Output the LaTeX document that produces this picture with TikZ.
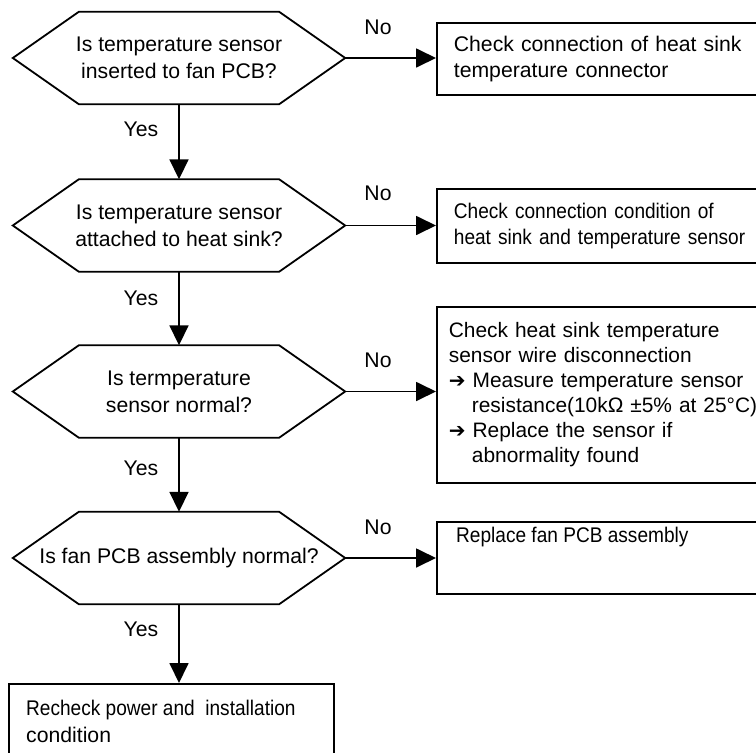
\documentclass[tikz,border=0pt]{standalone}
\usepackage{fontspec}
\setmainfont{Liberation Sans}
\newfontfamily\narrowfont[FakeStretch=0.9]{Liberation Sans}
\newfontfamily\symfont{DejaVu Sans}
\usetikzlibrary{arrows.meta}
\newcommand{\arrowmark}{{\symfont\fontsize{20}{25}\selectfont ➔}}
\begin{document}
\begin{tikzpicture}[x=1pt,y=-1pt,
  font=\fontsize{21.2}{25.5}\selectfont,
  hexnode/.style={minimum width=332, minimum height=92, inner sep=0pt, align=center,
                  font=\fontsize{21.2}{27}\selectfont},
  hexline/.style={line width=1.8pt, line join=miter},
  box/.style={draw, line width=1.8pt, rectangle, inner sep=0pt, anchor=north west},
  lbl/.style={inner sep=0pt},
  arr/.style={line width=1.8pt, -{Triangle[length=20pt,width=19pt]}}]
\useasboundingbox (0,0) rectangle (756,753);
\clip (0,0) rectangle (756,753);

% decisions
\node[hexnode] (h1) at (179,58)    {Is temperature sensor\\inserted to fan PCB?};
\node[hexnode] (h2) at (179,225.5) {Is temperature sensor\\attached to heat sink?};
\node[hexnode] (h3) at (179,391.5) {Is termperature\\sensor normal?};
\node[hexnode] (h4) at (179,558)   {Is fan PCB assembly normal?};
\foreach \h in {h1,h2,h3,h4}
  \draw[hexline] (\h.west) -- ([xshift=66pt]\h.north west) -- ([xshift=-66pt]\h.north east)
     -- (\h.east) -- ([xshift=-66pt]\h.south east) -- ([xshift=66pt]\h.south west) -- cycle;

% action boxes
\node[box, minimum width=344, minimum height=72, text width=310, align=left] (b1) at (436,22)
  {Check connection of heat sink\\temperature connector};
\node[box, minimum width=344, minimum height=74, text width=310, align=left] (b2) at (436,188)
  {\narrowfont Check connection condition of\\heat sink and temperature sensor};
\node[box, minimum width=344, minimum height=176, text width=320, align=left,
      font=\fontsize{20.9}{25}\selectfont] (b3) at (436,306)
  {Check heat sink temperature\\
   sensor wire disconnection\\
   \arrowmark\ Measure temperature sensor\\
   \hspace*{23pt}resistance(10kΩ ±5\% at 25°C)\\
   \arrowmark\ Replace the sensor if\\
   \hspace*{23pt}abnormality found};
\node[box, minimum width=344, minimum height=72] (b4) at (436,521) {};
\node[lbl, anchor=base west] (t4) at (456,542.5) {\narrowfont Replace fan PCB assembly};
\node[box, minimum width=325, minimum height=100] (b5) at (8,683) {};
\node[lbl, anchor=north west, align=left, font=\fontsize{21.2}{26.5}\selectfont] (t5) at (26,700)
  {\narrowfont Recheck power and\ \ installation\\condition};

% connectors
\draw[arr] (h1.south) -- (h2.north);
\draw[arr] (h2.south) -- (h3.north);
\draw[arr] (h3.south) -- (h4.north);
\draw[arr] (h4.south) -- (h4.south |- b5.north);
\draw[arr] (h1.east) -- (h1.east -| b1.west);
\draw[arr] (h2.east) -- (h2.east -| b2.west);
\draw[arr] (h3.east) -- (h3.east -| b3.west);
\draw[arr] (h4.east) -- (h4.east -| b4.west);

% labels
\node[lbl] (n1) at (378,27)  {No};
\node[lbl] (n2) at (378,193) {No};
\node[lbl] (n3) at (378,360) {No};
\node[lbl] (n4) at (378,527) {No};
\node[lbl] (y1) at (141,129) {Yes};
\node[lbl] (y2) at (141,298) {Yes};
\node[lbl] (y3) at (141,468) {Yes};
\node[lbl] (y4) at (141,629) {Yes};
\end{tikzpicture}
\end{document}
